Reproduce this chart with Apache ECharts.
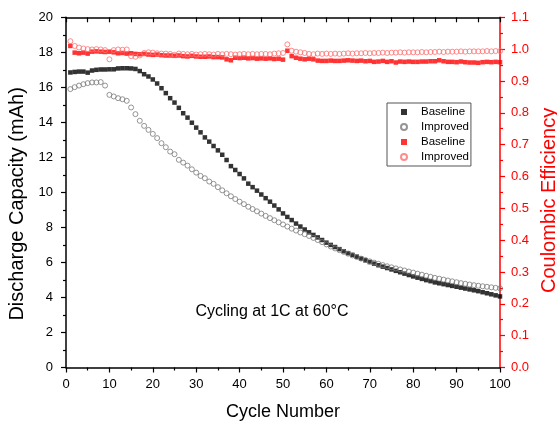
<!DOCTYPE html>
<html>
<head>
<meta charset="utf-8">
<script src="https://cdn.jsdelivr.net/npm/echarts@6/dist/echarts.min.js"></script>
<style>
html,body{margin:0;padding:0;background:#fff;}
#chart{width:557px;height:428px;}
</style>
</head>
<body>
<div id="chart"></div>
<script>
const cycles = [1,2,3,4,5,6,7,8,9,10,11,12,13,14,15,16,17,18,19,20,
21,22,23,24,25,26,27,28,29,30,31,32,33,34,35,36,37,38,39,40,
41,42,43,44,45,46,47,48,49,50,51,52,53,54,55,56,57,58,59,60,
61,62,63,64,65,66,67,68,69,70,71,72,73,74,75,76,77,78,79,80,
81,82,83,84,85,86,87,88,89,90,91,92,93,94,95,96,97,98,99,100];

const baselineCapacity = [16.85,16.88,16.90,16.90,16.84,16.96,17.00,17.02,17.02,17.03,
17.03,17.08,17.09,17.09,17.08,17.05,16.93,16.75,16.62,16.45,
16.22,15.95,15.67,15.38,15.13,14.83,14.52,14.27,13.98,13.70,
13.43,13.14,12.90,12.65,12.40,12.15,11.85,11.50,11.28,11.05,
10.80,10.50,10.30,10.10,9.88,9.67,9.47,9.25,9.03,8.80,
8.60,8.42,8.22,8.05,7.88,7.72,7.57,7.43,7.28,7.13,
7.00,6.88,6.76,6.64,6.53,6.43,6.33,6.22,6.12,6.02,
5.93,5.84,5.76,5.68,5.60,5.52,5.44,5.36,5.28,5.20,
5.13,5.06,4.99,4.93,4.86,4.81,4.76,4.71,4.66,4.61,
4.56,4.51,4.46,4.41,4.36,4.30,4.24,4.18,4.12,4.06];

const improvedCapacity = [15.90,16.01,16.10,16.18,16.24,16.28,16.28,16.30,16.10,15.57,
15.48,15.38,15.32,15.23,14.85,14.47,14.09,13.80,13.57,13.34,
13.10,12.81,12.58,12.33,12.18,11.86,11.70,11.53,11.32,11.13,
10.94,10.81,10.62,10.49,10.30,10.12,9.95,9.78,9.62,9.47,
9.33,9.18,9.05,8.92,8.79,8.66,8.53,8.41,8.29,8.17,
8.05,7.93,7.82,7.71,7.61,7.51,7.40,7.28,7.16,7.03,
6.91,6.80,6.70,6.60,6.50,6.40,6.31,6.22,6.14,6.06,
5.99,5.92,5.85,5.78,5.72,5.66,5.60,5.54,5.48,5.42,
5.36,5.30,5.24,5.18,5.12,5.07,5.02,4.97,4.92,4.87,
4.82,4.78,4.74,4.70,4.67,4.64,4.61,4.58,4.55,4.52];

const baselineCE = [1.010,0.989,0.987,0.989,0.986,0.992,0.993,0.992,0.991,0.992,
0.990,0.987,0.988,0.986,0.987,0.985,0.984,0.985,0.983,0.982,
0.983,0.981,0.980,0.980,0.979,0.980,0.978,0.977,0.979,0.977,
0.976,0.976,0.977,0.975,0.975,0.974,0.968,0.965,0.973,0.972,
0.973,0.971,0.972,0.970,0.971,0.970,0.971,0.969,0.970,0.967,
0.995,0.978,0.973,0.970,0.968,0.970,0.968,0.964,0.963,0.963,
0.964,0.963,0.963,0.964,0.965,0.964,0.963,0.964,0.962,0.963,
0.960,0.961,0.963,0.960,0.962,0.958,0.961,0.960,0.961,0.960,
0.960,0.961,0.961,0.962,0.962,0.965,0.962,0.960,0.960,0.959,
0.961,0.959,0.958,0.958,0.957,0.959,0.960,0.959,0.960,0.959];

const improvedCE = [1.025,1.010,1.005,1.002,1.000,0.999,1.000,0.999,0.997,0.968,
0.997,0.999,0.998,0.999,0.978,0.976,0.980,0.988,0.990,0.989,
0.987,0.986,0.986,0.985,0.982,0.986,0.985,0.984,0.985,0.983,
0.984,0.985,0.984,0.983,0.985,0.984,0.985,0.984,0.983,0.984,
0.985,0.984,0.985,0.984,0.985,0.985,0.984,0.986,0.987,0.988,
1.015,0.995,0.992,0.990,0.988,0.985,0.984,0.986,0.985,0.986,
0.985,0.986,0.985,0.986,0.987,0.986,0.987,0.987,0.988,0.987,
0.988,0.988,0.989,0.988,0.989,0.989,0.990,0.989,0.990,0.990,
0.990,0.991,0.990,0.991,0.991,0.992,0.991,0.992,0.992,0.992,
0.993,0.992,0.993,0.993,0.993,0.993,0.994,0.993,0.994,0.994];

const cycleTicks = [0,10,20,30,40,50,60,70,80,90,100];
const capacityTicks = [0,2,4,6,8,10,12,14,16,18,20];
const ceTicks = [0.0,0.1,0.2,0.3,0.4,0.5,0.6,0.7,0.8,0.9,1.0,1.1];

const FONT = '"Liberation Sans", Arial, sans-serif';
const RED = '#ff0000';

function pairs(vals){ return cycles.map((c,i)=>[c, vals[i]]); }

const chart = echarts.init(document.getElementById('chart'), null, {renderer:'canvas'});

const tickStep = a => a[1]-a[0];

chart.setOption({
  animation:false,
  backgroundColor:'#fff',
  textStyle:{fontFamily:FONT},
  grid:{left:66, right:57, top:17.3, bottom:60.5, containLabel:false, outerBoundsMode:'none'},
  legend:{
    orient:'vertical', left:387, top:103,
    padding:[2,2,2,13],
    itemWidth:6, itemHeight:6, itemGap:1,
    borderColor:'#555', borderWidth:1, backgroundColor:'#fff',
    textStyle:{fontSize:11.5, lineHeight:14, color:'#000', fontFamily:FONT, padding:[0,0,0,9]},
    formatter: n => n.replace(' (CE)',''),
    data:['Baseline','Improved','Baseline (CE)','Improved (CE)']
  },
  graphic:[{
    type:'text', left:null, x:272, y:311.5,
    style:{text:'Cycling at 1C at 60°C', fontSize:16, fontFamily:FONT, fill:'#000', align:'center', verticalAlign:'middle'}
  }],
  xAxis:[{
    type:'value', position:'bottom',
    min:cycleTicks[0], max:cycleTicks[cycleTicks.length-1], interval:tickStep(cycleTicks),
    name:'Cycle Number', nameLocation:'middle', nameGap:36,
    nameTextStyle:{fontSize:18, color:'#000', fontFamily:FONT},
    axisLine:{show:true, onZero:false, lineStyle:{color:'#000', width:1.5}},
    axisTick:{show:true, inside:false, length:5, lineStyle:{color:'#000', width:1.2}},
    minorTick:{show:true, splitNumber:2, length:3, lineStyle:{color:'#000', width:1.2}},
    axisLabel:{fontSize:13, color:'#000', margin:10, fontFamily:FONT},
    splitLine:{show:false}, minorSplitLine:{show:false}
  },{
    type:'value', position:'top',
    min:cycleTicks[0], max:cycleTicks[cycleTicks.length-1], interval:tickStep(cycleTicks),
    axisLine:{show:true, onZero:false, lineStyle:{color:'#000', width:1.5}},
    axisTick:{show:true, inside:true, length:5, lineStyle:{color:'#000', width:1.2}},
    minorTick:{show:true, splitNumber:2, length:5, lineStyle:{color:'#000', width:1.2}},
    axisLabel:{show:false},
    splitLine:{show:false}
  }],
  yAxis:[{
    type:'value', position:'left',
    min:capacityTicks[0], max:capacityTicks[capacityTicks.length-1], interval:tickStep(capacityTicks),
    name:'Discharge Capacity (mAh)', nameLocation:'middle', nameGap:34, nameRotate:90,
    nameTextStyle:{fontSize:20, color:'#000', fontFamily:FONT, padding:[0,23,0,0]},
    axisLine:{show:true, onZero:false, lineStyle:{color:'#000', width:1.5}},
    axisTick:{show:true, inside:false, length:5, lineStyle:{color:'#000', width:1.2}},
    minorTick:{show:true, splitNumber:2, length:3, lineStyle:{color:'#000', width:1.2}},
    axisLabel:{fontSize:13, color:'#000', margin:13, fontFamily:FONT},
    splitLine:{show:false}
  },{
    type:'value', position:'right',
    min:ceTicks[0], max:ceTicks[ceTicks.length-1], interval:0.1,
    name:'Coulombic Efficiency', nameLocation:'middle', nameGap:35, nameRotate:90,
    nameTextStyle:{fontSize:20, color:RED, fontFamily:FONT, padding:[0,16,0,0]},
    axisLine:{show:true, onZero:false, lineStyle:{color:RED, width:1.5}},
    axisTick:{show:true, inside:false, length:5, lineStyle:{color:RED, width:1.2}},
    minorTick:{show:true, splitNumber:2, length:3, lineStyle:{color:RED, width:1.2}},
    axisLabel:{fontSize:13, color:RED, margin:11, fontFamily:FONT, formatter:v=>v.toFixed(1)},
    splitLine:{show:false}
  }],
  series:[{
    name:'Baseline', type:'scatter', xAxisIndex:0, yAxisIndex:0,
    symbol:'rect', symbolSize:4.5,
    itemStyle:{color:'#000'},
    data:pairs(baselineCapacity)
  },{
    name:'Improved', type:'scatter', xAxisIndex:0, yAxisIndex:0,
    symbol:'circle', symbolSize:5,
    itemStyle:{color:'rgba(255,255,255,0)', borderColor:'#7a7a7a', borderWidth:1},
    data:pairs(improvedCapacity)
  },{
    name:'Baseline (CE)', type:'scatter', xAxisIndex:0, yAxisIndex:1,
    symbol:'rect', symbolSize:4.5,
    itemStyle:{color:RED},
    data:pairs(baselineCE)
  },{
    name:'Improved (CE)', type:'scatter', xAxisIndex:0, yAxisIndex:1,
    symbol:'circle', symbolSize:5,
    itemStyle:{color:'rgba(255,255,255,0)', borderColor:'#ff7070', borderWidth:1},
    data:pairs(improvedCE)
  }]
});
</script>
</body>
</html>
